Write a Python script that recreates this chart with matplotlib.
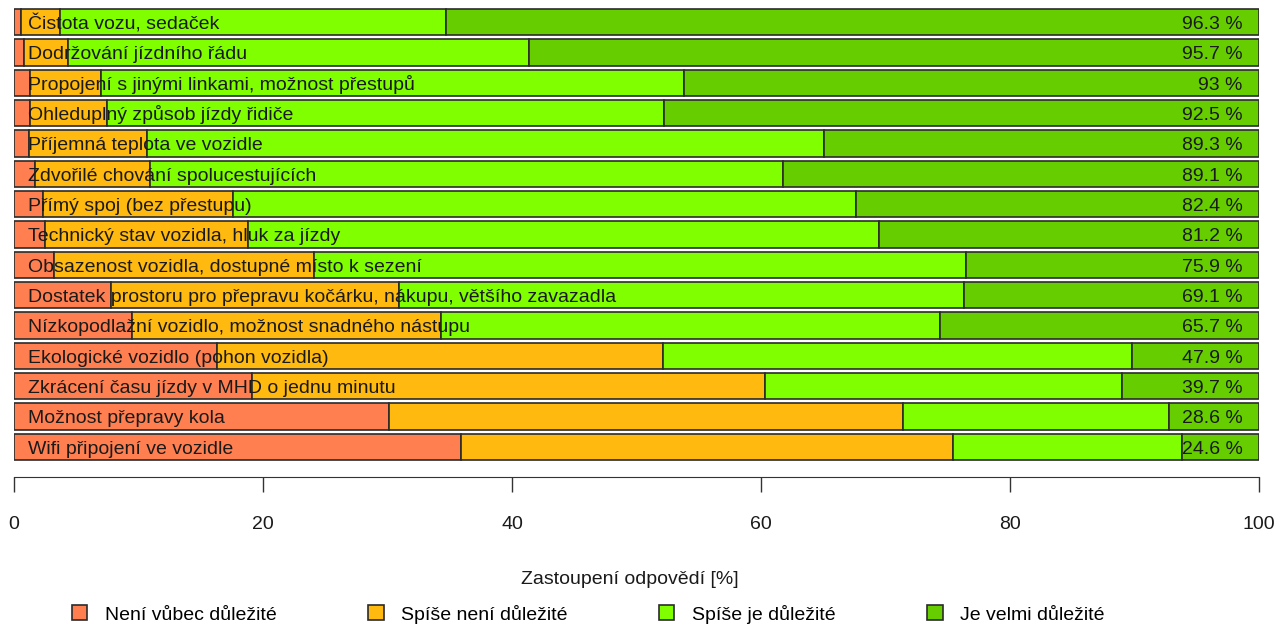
import numpy as np
import matplotlib
matplotlib.use('Agg')
import matplotlib.pyplot as plt

plt.rcParams['font.family'] = ['Liberation Sans', 'DejaVu Sans']

# Categories (top to bottom)
categories = [
    'Čistota vozu, sedaček',
    'Dodržování jízdního řádu',
    'Propojení s jinými linkami, možnost přestupů',
    'Ohleduplný způsob jízdy řidiče',
    'Příjemná teplota ve vozidle',
    'Zdvořilé chování spolucestujících',
    'Přímý spoj (bez přestupu)',
    'Technický stav vozidla, hluk za jízdy',
    'Obsazenost vozidla, dostupné místo k sezení',
    'Dostatek prostoru pro přepravu kočárku, nákupu, většího zavazadla',
    'Nízkopodlažní vozidlo, možnost snadného nástupu',
    'Ekologické vozidlo (pohon vozidla)',
    'Zkrácení času jízdy v MHD o jednu minutu',
    'Možnost přepravy kola',
    'Wifi připojení ve vozidle',
]

# Share of answers [%]
not_important = [0.6, 0.8, 1.3, 1.3, 1.2, 1.7, 2.3, 2.5, 3.2, 7.8, 9.5, 16.3, 19.1, 30.1, 35.9]
rather_not = [3.1, 3.5, 5.7, 6.2, 9.5, 9.2, 15.3, 16.3, 20.9, 23.1, 24.8, 35.8, 41.2, 41.3, 39.5]
rather_yes = [31.0, 37.1, 46.8, 44.7, 54.4, 50.9, 50.0, 50.7, 52.4, 45.4, 40.1, 37.7, 28.7, 21.4, 18.4]
very = [65.3, 58.6, 46.2, 47.8, 34.9, 38.2, 32.4, 30.5, 23.5, 23.7, 25.6, 10.2, 11.0, 7.2, 6.2]

series_names = ['Není vůbec důležité', 'Spíše není důležité', 'Spíše je důležité', 'Je velmi důležité']
colors = ['#FF7F50', '#FFB90F', '#7FFF00', '#66CD00']

fs = 14

fig = plt.figure(figsize=(12.87, 6.28), dpi=100)
ax = fig.add_axes([14 / 1287, 1 - 462 / 628, 1245 / 1287, 455 / 628])

y = np.arange(len(categories))
left = np.zeros(len(categories))
for vals, name, col in zip([not_important, rather_not, rather_yes, very], series_names, colors):
    ax.barh(y, vals, left=left, height=0.86, color=col, edgecolor='#2b2b2b',
            linewidth=1.2, label=name)
    left += np.array(vals)

# labels inside bars (baseline a bit below bar centre)
important = np.array(rather_yes) + np.array(very)
for i, cat in enumerate(categories):
    ax.text(1.1, i + 0.23, cat, ha='left', va='baseline', fontsize=fs, color='#1a1a1a')
    s = f'{round(important[i], 1):.1f}'
    if s.endswith('.0'):
        s = s[:-2]
    ax.text(98.7, i + 0.23, s + ' %', ha='right', va='baseline', fontsize=fs, color='#1a1a1a')

ax.set_xlim(0, 100)
ax.set_ylim(-0.5, len(categories) - 0.5)
ax.invert_yaxis()

for side in ['top', 'right', 'left']:
    ax.spines[side].set_visible(False)
ax.spines['bottom'].set_position(('outward', 11))
ax.spines['bottom'].set_bounds(0, 100)
ax.spines['bottom'].set_color('#333333')
ax.set_yticks([])
ax.set_xticks([0, 20, 40, 60, 80, 100])
ax.tick_params(axis='x', direction='out', length=11, width=1, color='#333333',
               pad=17, labelsize=fs, labelcolor='#1a1a1a')

ax.set_xlabel('Zastoupení odpovědí [%]', fontsize=fs, color='#1a1a1a')
ax.xaxis.set_label_coords(0.495, -0.24)

fig.legend(loc='center', bbox_to_anchor=(0.457, 1 - 614 / 628), ncol=4, frameon=False,
           fontsize=fs, handlelength=0.8, handleheight=0.8, handletextpad=0.9,
           columnspacing=4.7)

fig.savefig('out.png', dpi=100)
